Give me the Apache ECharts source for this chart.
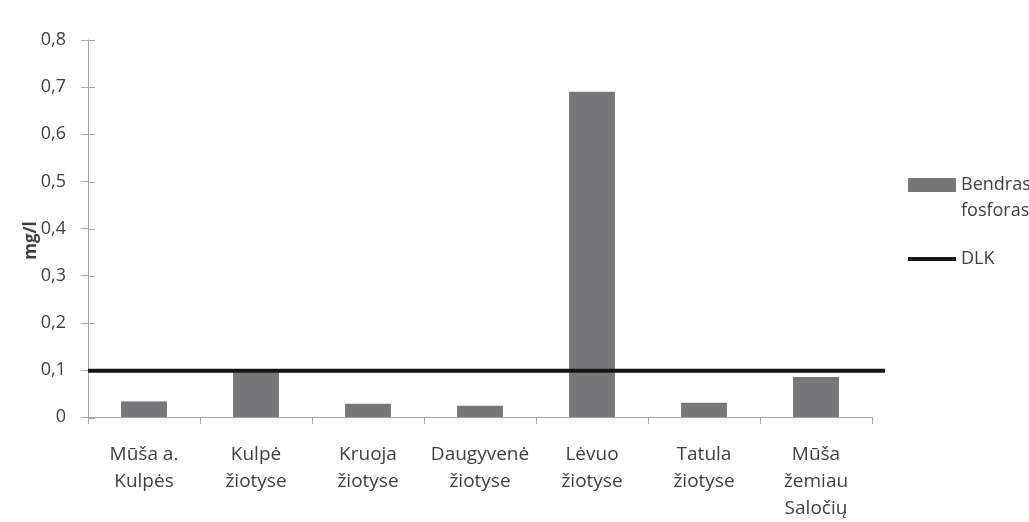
<!DOCTYPE html>
<html>
<head>
<meta charset="utf-8">
<script src="https://cdn.jsdelivr.net/npm/echarts@6/dist/echarts.min.js"></script>
<style>
  html, body { margin: 0; padding: 0; background: #fff; }
  #chart { width: 1029px; height: 522px; }
</style>
</head>
<body>
<div id="chart"></div>
<script>
// River sites
const categories = [
  'Mūša a.\nKulpės',
  'Kulpė\nžiotyse',
  'Kruoja\nžiotyse',
  'Daugyvenė\nžiotyse',
  'Lėvuo\nžiotyse',
  'Tatula\nžiotyse',
  'Mūša\nžemiau\nSaločių'
];
// Total phosphorus, mg/l
const phosphorus = [0.033, 0.098, 0.028, 0.024, 0.69, 0.03, 0.085];
// Permissible limit (DLK), mg/l, drawn as a horizontal rule
const dlkValue = 0.1;
const dlkSpan = [0, 1];
const yTicks = { min: 0, max: 0.8, interval: 0.1 };

const textColor = '#404040';
const axisColor = '#a4a4a4';
const barColor = '#77777a';
const lineColor = '#151515';
const fontFamily = '"Open Sans", "Noto Sans", sans-serif';
const fmt = v => String(Math.round(v * 10) / 10).replace('.', ',');

const chart = echarts.init(document.getElementById('chart'));
chart.setOption({
  animation: false,
  backgroundColor: '#ffffff',
  textStyle: { fontFamily: fontFamily, color: textColor },
  grid: [
    { left: 88, top: 40, width: 784, height: 378 },
    // the limit rule runs slightly past the category axis end
    { left: 88, top: 40, width: 797, height: 378 }
  ],
  legend: {
    orient: 'vertical',
    left: 903,
    top: 167,
    itemGap: 22,
    itemWidth: 48,
    itemHeight: 40,
    textStyle: { fontSize: 18, color: textColor, lineHeight: 26, fontFamily: fontFamily },
    data: [
      { name: 'Bendras\nfosforas', icon: 'path://M0,0H48V14H0ZM0,40H0.01V40.01H0Z' },
      { name: 'DLK', icon: 'path://M0,0H48V4H0Z', itemStyle: { color: lineColor } }
    ]
  },
  xAxis: [
    {
      type: 'category',
      gridIndex: 0,
      data: categories,
      axisLine: { lineStyle: { color: axisColor, width: 1 } },
      axisTick: { show: true, interval: 0, length: 7, lineStyle: { color: axisColor } },
      axisLabel: { interval: 0, fontSize: 19, color: textColor, lineHeight: 27, margin: 24, fontFamily: fontFamily }
    },
    {
      type: 'value',
      gridIndex: 1,
      min: 0,
      max: 1,
      show: false
    }
  ],
  yAxis: [
    {
      type: 'value',
      gridIndex: 0,
      min: yTicks.min, max: yTicks.max, interval: yTicks.interval,
      name: 'mg/l',
      nameLocation: 'middle',
      nameRotate: 90,
      nameGap: 48,
      nameMoveOverlap: false,
      nameTextStyle: { fontSize: 17, fontWeight: 'bold', color: textColor, fontFamily: fontFamily, padding: [0, 24, 0, 0] },
      axisLine: { show: true, lineStyle: { color: axisColor } },
      axisTick: { show: true, length: 7, lineStyle: { color: axisColor } },
      splitLine: { show: false },
      axisLabel: { formatter: fmt, fontSize: 18, color: textColor, margin: 22, fontFamily: fontFamily }
    },
    {
      // inner half of the crossing tick marks
      type: 'value',
      gridIndex: 1,
      min: yTicks.min, max: yTicks.max, interval: yTicks.interval,
      position: 'left',
      axisLine: { show: true, lineStyle: { color: axisColor } },
      axisTick: { show: true, inside: true, length: 7, lineStyle: { color: axisColor } },
      axisLabel: { show: false },
      splitLine: { show: false }
    }
  ],
  series: [
    {
      name: 'Bendras\nfosforas',
      type: 'bar',
      xAxisIndex: 0,
      yAxisIndex: 0,
      data: phosphorus,
      barWidth: '41%',
      itemStyle: { color: barColor }
    },
    {
      name: 'DLK',
      type: 'line',
      xAxisIndex: 1,
      yAxisIndex: 1,
      data: dlkSpan.map(x => [x, dlkValue]),
      symbol: 'none',
      lineStyle: { color: lineColor, width: 4 },
      itemStyle: { color: lineColor }
    }
  ]
});
</script>
</body>
</html>
